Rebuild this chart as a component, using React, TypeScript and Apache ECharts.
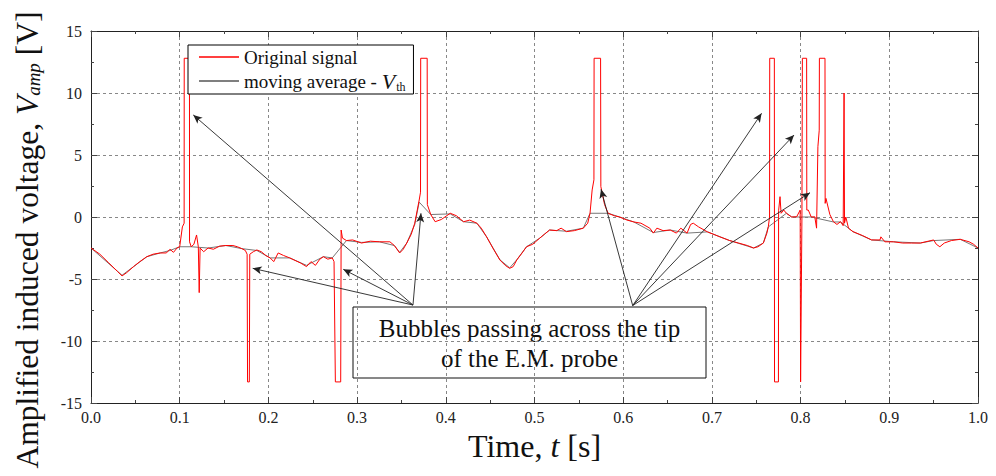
import React, { useEffect, useRef } from "react";
import * as echarts from "echarts";

// Original signal (time [s], voltage [V])
const sigT = [
  0.0, 0.01, 0.02, 0.03, 0.035, 0.04, 0.048, 0.055, 0.063, 0.07, 0.078, 0.085, 0.089, 0.093, 0.097, 0.1, 0.103, 0.105,
  0.1051, 0.111, 0.1111, 0.113, 0.116, 0.119, 0.121, 0.122, 0.123, 0.127, 0.132, 0.138, 0.145, 0.152, 0.16, 0.165, 0.17,
  0.174, 0.176, 0.1765, 0.1785, 0.179, 0.183, 0.187, 0.192, 0.197, 0.202, 0.206, 0.211, 0.217, 0.224, 0.23, 0.236, 0.243,
  0.248, 0.253, 0.258, 0.262, 0.267, 0.272, 0.274, 0.2755, 0.2815, 0.282, 0.2835, 0.288, 0.295, 0.305, 0.315, 0.325,
  0.337, 0.342, 0.348, 0.352, 0.356, 0.361, 0.365, 0.37, 0.3715, 0.3717, 0.379, 0.3792, 0.383, 0.388, 0.395, 0.405,
  0.412, 0.42, 0.427, 0.435, 0.44, 0.446, 0.453, 0.461, 0.467, 0.472, 0.476, 0.48, 0.486, 0.491, 0.498, 0.506, 0.511,
  0.517, 0.525, 0.53, 0.536, 0.545, 0.555, 0.56, 0.5626, 0.565, 0.567, 0.5672, 0.5745, 0.5748, 0.579, 0.583, 0.59,
  0.596, 0.604, 0.612, 0.62, 0.63, 0.634, 0.638, 0.645, 0.653, 0.66, 0.665, 0.672, 0.676, 0.679, 0.685, 0.695, 0.709,
  0.72, 0.73, 0.74, 0.747, 0.752, 0.758, 0.762, 0.7636, 0.765, 0.7652, 0.7704, 0.7706, 0.775, 0.7752, 0.7768, 0.778,
  0.781, 0.784, 0.79, 0.7956, 0.7995, 0.8, 0.8015, 0.802, 0.8068, 0.807, 0.8087, 0.812, 0.816, 0.818, 0.8195, 0.821,
  0.8212, 0.8275, 0.8277, 0.8286, 0.833, 0.837, 0.841, 0.845, 0.848, 0.849, 0.8495, 0.851, 0.854, 0.859, 0.87, 0.88,
  0.8895, 0.8905, 0.895, 0.905, 0.915, 0.925, 0.935, 0.95, 0.953, 0.957, 0.962, 0.97, 0.98, 0.99, 0.995, 1.0,
];
const sigV = [
  -2.5, -3.0, -3.7, -4.4, -4.75, -4.5, -4.0, -3.6, -3.2, -3.0, -2.9, -2.9, -2.6, -2.85, -2.5, -2.4, -0.8, -0.5,
  12.8, 12.8, -2.0, -2.4, -2.2, -1.45, -2.4, -6.1, -2.5, -2.8, -2.5, -2.6, -2.35, -2.3, -2.3, -2.4, -2.55,
  -2.7, -3.0, -13.3, -13.3, -3.0, -2.8, -2.66, -2.8, -3.1, -3.3, -3.6, -2.9, -3.1, -3.3, -3.5, -3.7, -4.0,
  -3.6, -3.9, -3.4, -3.2, -3.4, -3.3, -3.6, -13.3, -13.3, -1.05, -1.7, -1.9, -1.85, -2.1, -1.95, -2.0,
  -2.0, -2.3, -2.9, -2.6, -2.1, -1.4, -0.5, 1.37, 2.0, 12.8, 12.8, 1.0, 0.2, -0.38, -0.2, 0.3,
  0.1, -0.38, -0.25, -0.5, -0.9, -1.6, -2.5, -3.47, -3.9, -4.14, -4.0, -3.47, -2.9, -2.4, -2.2, -1.7, -1.4,
  -1.05, -1.1, -0.9, -1.18, -1.1, -0.9, -0.5, 0.3, 2.18, 3.0, 12.8, 12.8, 2.45, 1.0, 0.3, 0.1,
  0.0, -0.24, -0.4, -0.5, -0.9, -1.3, -0.9, -1.1, -1.05, -1.3, -0.9, -1.3, -0.6, -0.5, -0.8, -1.2, -1.6,
  -1.9, -2.1, -2.3, -2.5, -2.4, -2.1, -1.3, -0.78, 0.0, 12.8, 12.8, -13.3, -13.3, 0.5, 1.64, 0.3,
  0.56, 0.3, 0.0, 0.02, 0.56, -13.3, 0.0, 12.8, 12.8, 0.56, 0.56, 0.0, 0.02, -0.9, 5.67, 7.0,
  12.8, 12.8, 1.1, 1.5, 0.2, -0.38, -0.6, -0.38, -0.7, 10.0, -0.5, 0.0, -0.9, -1.18, -1.5, -1.85,
  -1.85, -1.6, -2.0, -2.0, -2.1, -2.1, -2.1, -1.85, -2.2, -2.4, -2.1, -1.9, -1.8, -2.0, -2.2, -2.5,
];

// Moving average (threshold) – follows the signal baseline closely
const maT = [
  0, 0.035, 0.048, 0.063, 0.078, 0.089, 0.1, 0.113, 0.132, 0.152, 0.17, 0.187, 0.202, 0.224, 0.243, 0.262, 0.272,
  0.288, 0.305, 0.325, 0.342, 0.348, 0.356, 0.365, 0.37, 0.383, 0.405, 0.42, 0.435, 0.446, 0.461, 0.472, 0.48, 0.491,
  0.506, 0.517, 0.536, 0.555, 0.5626, 0.583, 0.596, 0.612, 0.634, 0.653, 0.672, 0.695, 0.72, 0.747, 0.758, 0.7636,
  0.784, 0.79, 0.812, 0.837, 0.845, 0.859, 0.88, 0.905, 0.935, 0.95, 0.98, 1.0,
];
const maV = [
  -2.5, -4.7, -4.0, -3.2, -2.9, -2.7, -2.4, -2.4, -2.5, -2.3, -2.55, -2.7, -3.3, -3.3, -3.9, -3.2, -3.3,
  -1.9, -2.05, -2.0, -2.3, -2.85, -2.1, -0.6, 1.2, 0.2, 0.25, -0.38, -0.5, -1.6, -3.45, -4.1, -3.45, -2.4,
  -1.7, -1.05, -1.15, -0.9, 0.3, 0.3, 0.0, -0.4, -1.25, -1.05, -1.3, -1.2, -1.9, -2.5, -2.1, -0.8,
  0.3, 0.0, 0.0, -0.4, -0.4, -1.18, -1.85, -2.0, -2.1, -1.9, -1.8, -2.5,
];

// Annotation arrows: start (box top) and end (bubble) points in data units
const arrowsFrom = [
  [0.363, -7.1],
  [0.363, -7.1],
  [0.363, -7.1],
  [0.363, -7.1],
  [0.6107, -7.14],
  [0.6107, -7.14],
  [0.6107, -7.14],
  [0.6107, -7.14],
];
const arrowsTo = [
  [0.1153, 8.23],
  [0.1823, -4.14],
  [0.2844, -4.22],
  [0.372, 0.3],
  [0.575, 2.23],
  [0.756, 8.36],
  [0.7926, 6.61],
  [0.8106, 1.96],
];

const xTicks = [0, 0.1, 0.2, 0.3, 0.4, 0.5, 0.6, 0.7, 0.8, 0.9, 1.0];
const yTicks = [-15, -10, -5, 0, 5, 10, 15];

const FONT = "'Liberation Serif', 'Times New Roman', serif";

export default function App() {
  const ref = useRef<HTMLDivElement>(null);
  useEffect(() => {
    if (!ref.current) return;
    const chart = echarts.init(ref.current, undefined, { renderer: "svg" });
    const sig = sigT.map((t, i) => [t, sigV[i]]);
    const ma = maT.map((t, i) => [t, maV[i]]);
    const arrowData = arrowsFrom.map((f, i) => [{ coord: f }, { coord: arrowsTo[i] }]);
    const axisCommon = {
      axisLine: { show: true, onZero: false, lineStyle: { color: "#222", width: 1 } },
      axisTick: { show: true, inside: true, length: 6, lineStyle: { color: "#444" } },
      minorTick: { show: true, splitNumber: 2, length: 3, lineStyle: { color: "#444" } },
    };
    chart.setOption({
      animation: false,
      backgroundColor: "#fff",
      textStyle: { fontFamily: FONT },
      grid: { left: 91, right: 18, top: 31, bottom: 73, containLabel: false },
      legend: {
        left: 188,
        top: 45,
        orient: "vertical",
        backgroundColor: "#fff",
        borderColor: "#000",
        borderWidth: 1,
        borderRadius: 0,
        padding: [1, 8, 1, 11],
        icon: "rect",
        itemWidth: 40,
        itemHeight: 1.5,
        itemGap: 1,
        data: ["Original signal", "moving average - Vth"],
        formatter: (name: string) =>
          name === "Original signal" ? "Original signal" : "moving average - {i|V}{s|th}",
        textStyle: {
          fontFamily: FONT,
          fontSize: 19,
          lineHeight: 22,
          color: "#111",
          rich: {
            i: { fontFamily: FONT, fontSize: 22, fontStyle: "italic", color: "#111", lineHeight: 22 },
            s: { fontFamily: FONT, fontSize: 12, color: "#111", padding: [12, 0, 0, 1], lineHeight: 22 },
          },
        },
      },
      xAxis: [
        {
          type: "value",
          min: 0,
          max: 1,
          interval: 0.1,
          position: "bottom",
          ...axisCommon,
          axisLabel: {
            fontFamily: FONT,
            fontSize: 16,
            color: "#222",
            margin: 6,
            formatter: (v: number) => (xTicks.some((x) => Math.abs(x - v) < 1e-9) ? v.toFixed(1) : ""),
          },
          splitLine: { show: true, lineStyle: { color: "#888", type: [3, 3], width: 1 } },
          name: "Time, {i|t} [s]",
          nameLocation: "middle",
          nameGap: 0,
          nameTextStyle: {
            fontFamily: FONT,
            fontSize: 32,
            lineHeight: 16,
            color: "#111",
            rich: { i: { fontFamily: FONT, fontSize: 32, lineHeight: 16, fontStyle: "italic", color: "#111" } },
          },
        },
        {
          type: "value",
          min: 0,
          max: 1,
          interval: 0.1,
          position: "top",
          ...axisCommon,
          axisLabel: { show: false },
          splitLine: { show: false },
        },
      ],
      yAxis: [
        {
          type: "value",
          min: -15,
          max: 15,
          interval: 5,
          position: "left",
          ...axisCommon,
          axisLabel: {
            fontFamily: FONT,
            fontSize: 16,
            color: "#222",
            margin: 9,
            formatter: (v: number) => (yTicks.includes(v) ? String(v) : ""),
          },
          splitLine: { show: true, lineStyle: { color: "#888", type: [3, 3], width: 1 } },
          name: "Amplified induced voltage, {i|V}{s|amp} [V]",
          nameLocation: "middle",
          nameGap: 48,
          nameTextStyle: {
            fontFamily: FONT,
            fontSize: 31.5,
            color: "#111",
            padding: [0, 46, 0, 0],
            rich: {
              i: { fontFamily: FONT, fontSize: 31.5, fontStyle: "italic", color: "#111" },
              s: { fontFamily: FONT, fontSize: 19, fontStyle: "italic", color: "#111", padding: [13, 0, 0, 0] },
            },
          },
        },
        {
          type: "value",
          min: -15,
          max: 15,
          interval: 5,
          position: "right",
          ...axisCommon,
          axisLabel: { show: false },
          splitLine: { show: false },
        },
      ],
      series: [
        {
          name: "moving average - Vth",
          type: "line",
          data: ma,
          symbol: "none",
          lineStyle: { color: "#777", width: 1 },
          itemStyle: { color: "#555" },
          z: 2,
          silent: true,
        },
        {
          name: "Original signal",
          type: "line",
          data: sig,
          symbol: "none",
          lineStyle: { color: "#ff0000", width: 1 },
          itemStyle: { color: "#ff0000" },
          z: 3,
          silent: true,
          markLine: {
            silent: true,
            symbol: ["none", "arrow"],
            symbolSize: [6, 9],
            label: { show: false },
            lineStyle: { color: "#222", width: 0.9, type: "solid" },
            emphasis: { disabled: true },
            data: arrowData,
          },
        },
      ],
      graphic: [
        {
          type: "group",
          z: 100,
          children: [
            {
              type: "rect",
              shape: { x: 353, y: 307, width: 353, height: 71 },
              style: { fill: "#fff", stroke: "#111", lineWidth: 1 },
            },
            {
              type: "text",
              x: 529.5,
              y: 343,
              style: {
                text: "Bubbles passing across the tip\nof the E.M. probe",
                fontFamily: FONT,
                fontSize: 25,
                lineHeight: 30,
                fill: "#111",
                align: "center",
                verticalAlign: "middle",
              },
            },
          ],
        },
      ],
    });
    return () => chart.dispose();
  }, []);
  return <div ref={ref} style={{ width: 996, height: 476, position: "absolute", left: 0, top: 0 }} />;
}
